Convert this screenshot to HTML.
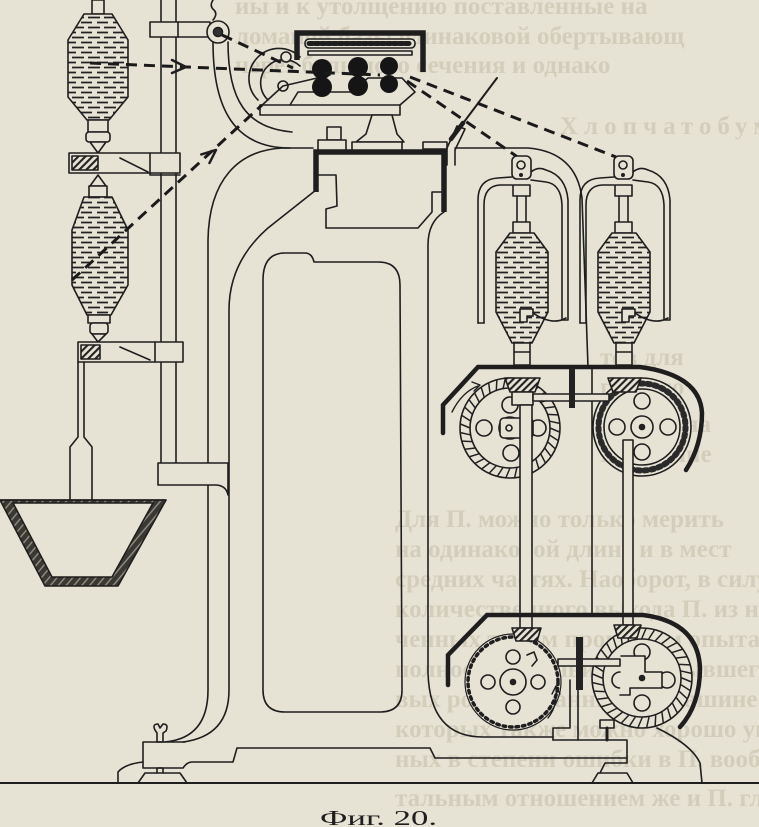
<!DOCTYPE html>
<html><head><meta charset="utf-8">
<style>
html,body{margin:0;padding:0;background:#e7e3d4;}
svg{display:block;}
.bt{font-family:"Liberation Serif","DejaVu Serif",serif;font-weight:bold;font-size:25px;fill:#d3cebc;}
</style></head>
<body>
<svg width="759" height="827" viewBox="0 0 759 827" xmlns="http://www.w3.org/2000/svg">
<defs>
<pattern id="yarn" width="16" height="10" patternUnits="userSpaceOnUse">
<rect width="16" height="10" fill="#e7e3d4"/>
<path d="M1,2.5 H12 M8,7.5 H16 M0,7.5 H4" stroke="#222" stroke-width="1.8"/>
</pattern>
<pattern id="diag" width="5" height="5" patternUnits="userSpaceOnUse" patternTransform="rotate(45)">
<rect width="5" height="5" fill="#e7e3d4"/>
<line x1="1" y1="0" x2="1" y2="5" stroke="#222" stroke-width="2.2"/>
</pattern>
<pattern id="bowl" width="6" height="6" patternUnits="userSpaceOnUse" patternTransform="rotate(40)">
<rect width="6" height="6" fill="#3a3833"/>
<line x1="1" y1="0" x2="1" y2="6" stroke="#9a968a" stroke-width="1.3"/>
</pattern>
<line id="tk" x1="0" y1="-40" x2="4" y2="-49.5" stroke="#222" stroke-width="1.5"/>
<g id="hatch">
<use href="#tk"/><use href="#tk" transform="rotate(10)"/><use href="#tk" transform="rotate(20)"/><use href="#tk" transform="rotate(30)"/>
<use href="#tk" transform="rotate(40)"/><use href="#tk" transform="rotate(50)"/><use href="#tk" transform="rotate(60)"/><use href="#tk" transform="rotate(70)"/>
<use href="#tk" transform="rotate(80)"/><use href="#tk" transform="rotate(90)"/><use href="#tk" transform="rotate(100)"/><use href="#tk" transform="rotate(110)"/>
<use href="#tk" transform="rotate(120)"/><use href="#tk" transform="rotate(130)"/><use href="#tk" transform="rotate(140)"/><use href="#tk" transform="rotate(150)"/>
<use href="#tk" transform="rotate(160)"/><use href="#tk" transform="rotate(170)"/><use href="#tk" transform="rotate(180)"/><use href="#tk" transform="rotate(190)"/>
<use href="#tk" transform="rotate(200)"/><use href="#tk" transform="rotate(210)"/><use href="#tk" transform="rotate(220)"/><use href="#tk" transform="rotate(230)"/>
<use href="#tk" transform="rotate(240)"/><use href="#tk" transform="rotate(250)"/><use href="#tk" transform="rotate(260)"/><use href="#tk" transform="rotate(270)"/>
<use href="#tk" transform="rotate(280)"/><use href="#tk" transform="rotate(290)"/><use href="#tk" transform="rotate(300)"/><use href="#tk" transform="rotate(310)"/>
<use href="#tk" transform="rotate(320)"/><use href="#tk" transform="rotate(330)"/><use href="#tk" transform="rotate(340)"/><use href="#tk" transform="rotate(350)"/>
</g>
</defs>

<rect width="759" height="827" fill="#e7e3d4"/>

<!-- faint bleed-through text -->
<g class="bt">
<text x="235" y="14">иы и к утолщению поставленные на</text>
<text x="235" y="44">ломаной базы одинаковой обертывающ</text>
<text x="235" y="73">через большого сечения и однако</text>
<text x="560" y="134" letter-spacing="6">Хлопчатобумаж</text>
<text x="600" y="365">тов для</text>
<text x="600" y="395">гораздо</text>
<text x="620" y="432">везде на</text>
<text x="600" y="462">П. вполне</text>
<text x="395" y="527">Для П. можно только мерить</text>
<text x="395" y="557">на одинаковой длине и в мест</text>
<text x="395" y="587">средних частях. Наоборот, в силу</text>
<text x="395" y="617">количественного выхода П. из нит</text>
<text x="395" y="647">ченных таким процессом опыта по</text>
<text x="395" y="677">полностью и зависит от бывшего</text>
<text x="395" y="707">вых ровниц, данных на машине и П.</text>
<text x="395" y="737">которых также можно хорошо указ</text>
<text x="395" y="767">ных в степени ошибки в П. вообще</text>
<text x="395" y="806">тальным отношением же и П. главн</text>
</g>

<g fill="none" stroke="#1e1e1e" stroke-width="1.6" stroke-linejoin="round" stroke-linecap="round">

<!-- pole -->
<line x1="161" y1="0" x2="161" y2="463"/>
<line x1="176" y1="0" x2="176" y2="463"/>

<!-- main frame -->
<path d="M313,148 L283,148 C238,150 209,180 208,240 L208,690 Q208,738 165,742"/>
<path d="M316,190 L268,228 Q229,262 229,310 L229,690 Q229,736 183,742"/>
<path d="M263,690 L263,280 Q263,253 285,253 L305,253 Q312,253 314,262 L378,262 Q400,262 400,285 L402,690 Q402,712 380,712 L285,712 Q263,712 263,690 Z"/>
<path d="M444,212 Q428,222 428,245 L428,673 Q430,737 483,737 L553,737"/>
<path d="M318,175 L336,175 L337,206 L326,209 L326,228 L418,228 L432,212 L432,192 L441,192"/>
<path d="M316,192 L316,152 L444,152 L444,212" stroke-width="5.5" stroke-linecap="butt" stroke-linejoin="miter"/>

<!-- base -->
<line x1="0" y1="783" x2="759" y2="783" stroke-width="2"/>
<path d="M118,783 L118,772 Q125,764 143,762"/>
<path d="M143,742 L185,742 M143,742 L143,768 L183,768 Q187,762 192,762 L233,762 L237,748 L430,748 L435,758 L627,758"/>
<path d="M138,783 L145,773 L180,773 L187,783"/>
<path d="M157,773 L157,768 L163,768 L163,773"/>
<path d="M155,730 Q152,724 158,724 L160,728 L163,724 Q169,724 166,731 L163,733 L163,742 L157,742 L157,733 Z"/>
<path d="M553,740 L627,740 L627,763 L605,763 L600,773"/>
<path d="M592,783 L598,773 L627,773 L633,783"/>
<path d="M657,728 Q692,745 700,763 L702,783"/>
<path d="M553,740 L553,728 L570,728 L570,680"/>
<line x1="578" y1="690" x2="578" y2="740"/>
<rect x="600" y="720" width="14" height="8" fill="#e7e3d4"/>
<path d="M607,728 L607,740" stroke-width="3"/>

<!-- pole clamps -->
<rect x="150" y="22" width="60" height="15" fill="#e7e3d4"/>
<line x1="178" y1="22" x2="178" y2="37"/>
<path d="M158,463 L228,463 L228,495 Q226,485 215,485 L158,485 Z" fill="#e7e3d4"/>

<!-- upper left bobbin -->
<rect x="92" y="0" width="12" height="14" fill="#e7e3d4"/>
<path d="M84,14 L112,14 L128,40 L128,97 L109,120 L87,120 L68,97 L68,40 Z" fill="url(#yarn)"/>
<rect x="88" y="120" width="20" height="12" fill="#e7e3d4"/>
<rect x="86" y="132" width="24" height="10" rx="3" fill="#e7e3d4"/>
<path d="M90,142 L106,142 L98,153 Z" fill="#e7e3d4"/>
<rect x="69" y="153" width="111" height="20" fill="#e7e3d4"/>
<rect x="72" y="156" width="26" height="14" fill="url(#diag)"/>
<path d="M150,153 L150,175 L180,175 M120,158 L148,172"/>

<!-- lower left bobbin -->
<path d="M98,175 L90,186 L106,186 Z" fill="#e7e3d4"/>
<rect x="89" y="186" width="18" height="11" fill="#e7e3d4"/>
<path d="M84,197 L112,197 L128,230 L128,285 L111,315 L87,315 L72,285 L72,230 Z" fill="url(#yarn)"/>
<rect x="88" y="315" width="22" height="8" fill="#e7e3d4"/>
<rect x="90" y="323" width="18" height="11" rx="3" fill="#e7e3d4"/>
<path d="M92,334 L106,334 L98,342 Z" fill="#e7e3d4"/>
<rect x="78" y="342" width="105" height="20" fill="#e7e3d4"/>
<rect x="81" y="345" width="19" height="14" fill="url(#diag)"/>
<path d="M155,342 L155,362 M120,347 L150,360"/>

<!-- spindle and bowl -->
<path d="M78,362 L78,437 L70,447 L70,500 M84,362 L84,437 L92,447 L92,500"/>
<path d="M0,500 L166,500 L118,586 L45,586 Z" fill="url(#bowl)"/>
<path d="M13,503 L153,503 L112,577 L52,577 Z" fill="#e7e3d4"/>
<line x1="0" y1="500" x2="166" y2="500"/>

<!-- pulley / wire -->
<path d="M213,0 Q209,6 214,10 Q218,14 213,20"/>
<circle cx="218" cy="32" r="11" fill="#e7e3d4"/>
<circle cx="218" cy="32" r="4.5" fill="#333"/>
<path d="M213,42 C213,110 235,148 290,148"/>
<path d="M228,42 C228,100 246,128 292,132"/>
<path d="M300,57 A30,30 0 0 0 258,100"/>
<path d="M300,66 A22,22 0 0 0 268,100"/>
<circle cx="286" cy="57" r="5" fill="#e7e3d4"/>
<circle cx="283" cy="86" r="5" fill="#e7e3d4"/>
<path d="M260,107 L283,86 L330,75"/>

<!-- spinner assembly -->
<rect x="260" y="105" width="140" height="10" fill="#e7e3d4"/>
<path d="M290,105 L298,92 L350,92 L368,78 L402,78 L415,92 L400,105"/>
<path d="M297,60 L297,33 L423,33 L423,72" stroke-width="5.5" stroke-linecap="butt" stroke-linejoin="miter"/>
<rect x="305" y="39" width="110" height="9" rx="4" fill="#e7e3d4"/>
<line x1="309" y1="43.5" x2="411" y2="43.5" stroke-width="5" stroke-dasharray="4 2"/>
<rect x="308" y="51" width="104" height="4" fill="#e7e3d4"/>
<g fill="#151515" stroke="none">
<circle cx="322" cy="69" r="10"/><circle cx="322" cy="87" r="10"/>
<circle cx="358" cy="67" r="10"/><circle cx="358" cy="86" r="10"/>
<circle cx="389" cy="66" r="9"/><circle cx="389" cy="84" r="9"/>
</g>
<path d="M327,127 L341,127 L341,140 L327,140 Z" fill="#e7e3d4"/>
<rect x="318" y="140" width="28" height="10" fill="#e7e3d4"/>
<path d="M372,115 L392,115 L397,134 L404,142 L356,142 L366,134 Z" fill="#e7e3d4"/>
<rect x="352" y="142" width="50" height="8" fill="#e7e3d4"/>
<rect x="423" y="142" width="24" height="7" fill="#e7e3d4"/>
<path d="M447,165 L447,148 L457,126 L465,129 L455,150 L455,165"/>

<!-- dashed threads -->
<g stroke="#1a1a1a" stroke-width="3" stroke-dasharray="11 7" stroke-linecap="butt">
<path d="M90,63 L380,75"/>
<path d="M72,280 L262,105"/>
<path d="M222,35 L293,68"/>
<path d="M407,81 L522,160"/>
<path d="M410,77 L616,157"/>
</g>
<path d="M172,60 L186,67 L172,73" stroke-width="2.5"/>
<path d="M209.5,163 L216,150 L201.3,154.4" stroke-width="2.5"/>

<!-- thread guide -->
<line x1="497" y1="78" x2="452" y2="138" stroke-width="2"/>
<line x1="463" y1="123" x2="451" y2="139" stroke-width="4.5"/>

<!-- back arch line -->
<path d="M455,148 L528,148 Q576,152 582,198 L588,367"/>
<line x1="592" y1="367" x2="592" y2="615"/>

<!-- spindle frames -->
<g id="sp">
<path d="M478,323 L478,200 Q478,179 498,178 L512,177"/>
<path d="M484,323 L484,205 Q484,186 500,185 L512,185"/>
<path d="M478,323 L484,323"/>
<path d="M531,172 Q538,166 546,170 Q566,176 568,200 L568,320 L562,320 L562,205 Q561,184 546,182 L531,180"/>
<rect x="512" y="156" width="19" height="23" rx="5" fill="#e7e3d4"/>
<circle cx="521" cy="165" r="4"/>
<circle cx="521" cy="175" r="1.2" fill="#222"/>
<rect x="513" y="185" width="17" height="11" fill="#e7e3d4"/>
<path d="M517,196 L517,222 M526,196 L526,222"/>
<rect x="513" y="222" width="17" height="11" fill="#e7e3d4"/>
<path d="M510,233 L534,233 L548,252 L548,312 L532,343 L512,343 L496,312 L496,252 Z" fill="url(#yarn)"/>
<path d="M520,309 L533,309 L533,316 L527,316 L527,322 L520,322 Z" fill="#e7e3d4"/>
<path d="M533,313 Q552,326 566,318"/>
<rect x="514" y="343" width="16" height="22" fill="#e7e3d4"/>
<path d="M514,352 L530,352"/>
</g>
<use href="#sp" transform="translate(102,0)"/>

<!-- upper gear box -->
<path d="M443,433 L443,405 L478,367 L640,367 Q700,375 702,413 Q702,445 686,470" stroke-width="4.5" stroke-linejoin="miter"/>
<path d="M452,412 Q462,392 478,386" stroke-width="1.4"/>
<path d="M472,382 L480,385 L474,391" stroke-width="1.4"/>
<!-- left upper gear -->
<circle cx="510" cy="428" r="50" fill="#e7e3d4"/>
<use href="#hatch" transform="translate(510,428)"/>
<circle cx="510" cy="428" r="40"/>
<circle cx="510" cy="405" r="8"/><circle cx="484" cy="428" r="8"/>
<circle cx="538" cy="428" r="8"/><circle cx="511" cy="453" r="8"/>
<circle cx="510" cy="428" r="11"/><circle cx="510" cy="428" r="2.5" fill="#222"/>
<!-- right upper gear -->
<circle cx="642" cy="427" r="49" fill="#e7e3d4"/>
<circle cx="642" cy="427" r="43.5" stroke-width="6" stroke-dasharray="3 4" stroke="#2a2a2a"/>
<circle cx="642" cy="427" r="38"/>
<circle cx="642" cy="401" r="8"/><circle cx="617" cy="427" r="8"/>
<circle cx="668" cy="427" r="8"/><circle cx="642" cy="452" r="8"/>
<circle cx="642" cy="427" r="11"/><circle cx="642" cy="427" r="2.5" fill="#222"/>
<!-- bevel gears & shaft -->
<path d="M505,378 L540,378 L535,392 L510,392 Z" fill="url(#diag)"/>
<path d="M608,378 L641,378 L636,392 L613,392 Z" fill="url(#diag)"/>
<rect x="512" y="392" width="21" height="13" fill="#e7e3d4"/>
<rect x="533" y="394" width="76" height="7" fill="#e7e3d4"/>
<rect x="569" y="368" width="6" height="40" fill="#222" stroke="none"/>
<rect x="500" y="418" width="33" height="20" rx="4" fill="#e7e3d4"/>
<circle cx="509" cy="428" r="3"/>
<!-- rods -->
<rect x="520" y="405" width="12" height="223" fill="#e7e3d4"/>
<rect x="623" y="440" width="10" height="185" fill="#e7e3d4"/>

<!-- lower gear box -->
<path d="M448,685 L448,655 L487,615 L643,615 Q698,622 700,668 Q700,705 680,727" stroke-width="4.5" stroke-linejoin="miter"/>
<!-- left lower gear -->
<circle cx="513" cy="682" r="48" fill="#e7e3d4" stroke-width="1.2"/>
<circle cx="513" cy="682" r="45" stroke-width="3.5" stroke-dasharray="2.5 4"/>
<circle cx="513" cy="657" r="7"/><circle cx="488" cy="682" r="7"/>
<circle cx="538" cy="682" r="7"/><circle cx="513" cy="707" r="7"/>
<circle cx="513" cy="682" r="13"/><circle cx="513" cy="682" r="2.5" fill="#222"/>
<path d="M527,655 L534,652 L537,660 L532,666"/>
<path d="M548,718 Q558,705 556,688" stroke-width="1.4"/>
<path d="M552,694 L556,686 L560,694" stroke-width="1.4"/>
<!-- right lower gear -->
<circle cx="642" cy="678" r="50" fill="#e7e3d4"/>
<use href="#hatch" transform="translate(642,678)"/>
<circle cx="642" cy="678" r="39"/>
<circle cx="642" cy="652" r="8"/><circle cx="620" cy="680" r="8"/>
<circle cx="667" cy="680" r="8"/><circle cx="642" cy="703" r="8"/>
<path d="M621,656 L645,656 L645,672 L662,672 L662,688 L630,688 L630,695 L620,695" fill="#e7e3d4"/>
<circle cx="642" cy="678" r="2.5" fill="#222"/>
<!-- bevels lower -->
<path d="M512,628 L541,628 L537,641 L516,641 Z" fill="url(#diag)"/>
<path d="M614,625 L641,625 L637,638 L618,638 Z" fill="url(#diag)"/>
<rect x="558" y="659" width="62" height="7" fill="#e7e3d4"/>
<rect x="576" y="637" width="7" height="53" fill="#222" stroke="none"/>
</g>

<text x="320" y="825" textLength="117" lengthAdjust="spacingAndGlyphs" font-family="Liberation Serif, DejaVu Serif, serif" font-size="21" fill="#1e1e1e">Фиг. 20.</text>
</svg>
</body></html>
